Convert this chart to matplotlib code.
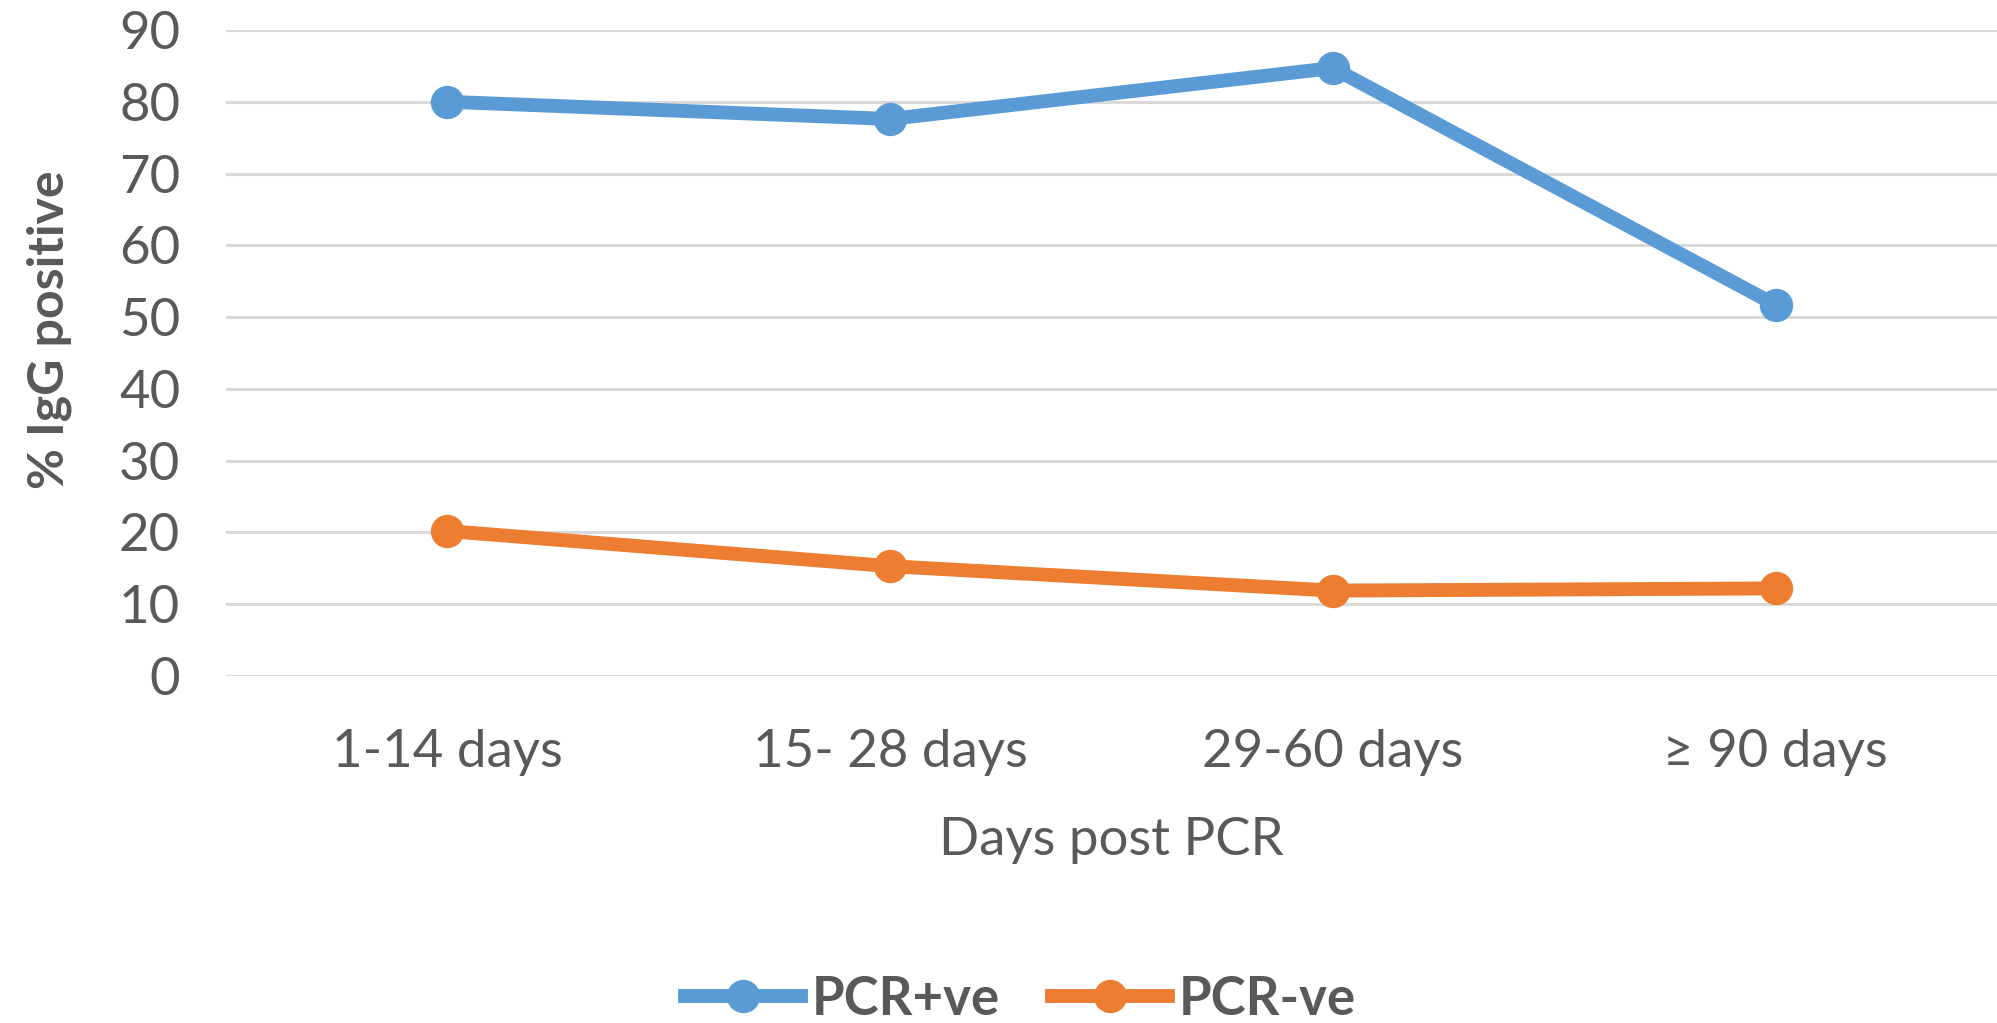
import matplotlib.pyplot as plt

# datos
categorias = ["1-14 days", "15- 28 days", "29-60 days", "≥ 90 days"]
pcr_pos = [80.0, 77.6, 84.7, 51.7]
pcr_neg = [20.2, 15.3, 11.9, 12.2]

plt.rcParams['font.family'] = ['Lato', 'DejaVu Sans']

fig = plt.figure(figsize=(19.97, 10.23), dpi=100)
ax = fig.add_axes([0.1132, 0.3392, 0.8868, 0.6315])

x = range(len(categorias))
ax.plot(x, pcr_pos, color='#5B9BD5', lw=10, marker='o', ms=23, label='PCR+ve')
ax.plot(x, pcr_neg, color='#ED7D31', lw=10, marker='o', ms=23, label='PCR-ve')

ax.set_xlim(-0.5, len(categorias) - 0.5)
ax.set_ylim(0, 90)
ax.set_yticks(range(0, 91, 10))
ax.set_xticks(list(x))
ax.set_xticklabels(categorias)
ax.tick_params(axis='both', length=0, labelsize=38, labelcolor='#595959')
ax.tick_params(axis='y', pad=33)
ax.tick_params(axis='x', pad=38)
ax.yaxis.grid(True, color='#D9D9D9', lw=2.2)
ax.set_axisbelow(True)
for s in ax.spines.values():
    s.set_visible(False)

ax.set_xlabel("Days post PCR", fontsize=38, color='#595959', labelpad=30)
ax.set_ylabel("% IgG positive", fontsize=36, color='#595959', fontweight='bold')
ax.yaxis.set_label_coords(-0.087, 0.536)

leg = fig.legend(loc='center', bbox_to_anchor=(0.511, 0.023), ncol=2, frameon=False,
                 fontsize=38, handlelength=2.2, columnspacing=1.0, handletextpad=0.2,
                 borderpad=0, borderaxespad=0)
for t in leg.get_texts():
    t.set_color('#595959')
    t.set_fontweight('bold')

plt.savefig('out.png')
